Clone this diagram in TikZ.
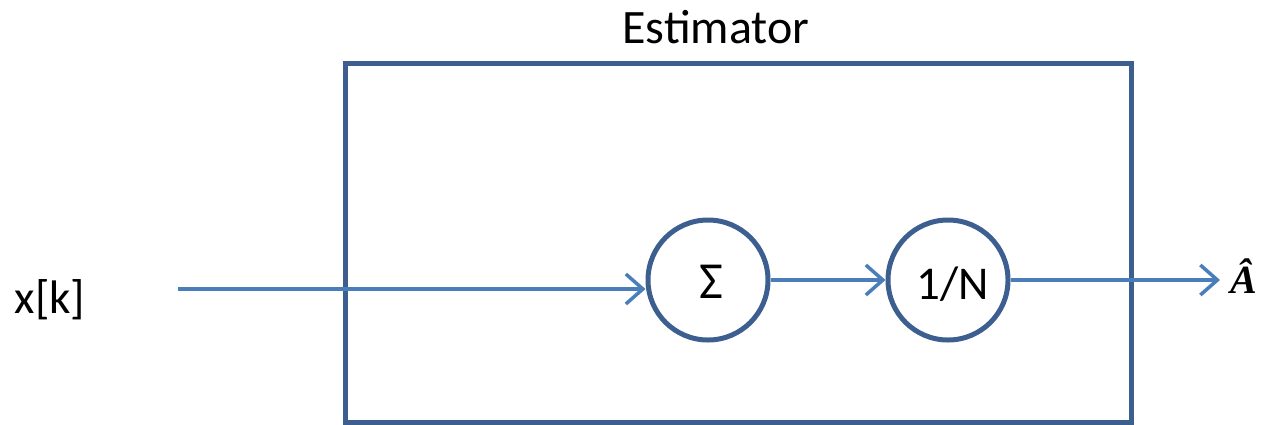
\documentclass[tikz,border=0pt]{standalone}
\usepackage{fontspec}
\setmainfont{Carlito}
\newfontfamily\hatfont{Liberation Serif}
\usetikzlibrary{arrows.meta}
\definecolor{boxblue}{HTML}{3C5F8F}
\definecolor{arrblue}{HTML}{4A7EBB}
\begin{document}
\begin{tikzpicture}[x=1pt,y=-1pt,
  frame/.style={draw=boxblue,line width=5pt},
  blockcirc/.style={circle,draw=boxblue,line width=5pt,minimum size=120pt,inner sep=0pt},
  sig/.style={draw=arrblue,line width=3.5pt,-{Straight Barb[length=17pt,width=30pt,line width=3.5pt]}},
  lbl/.style={inner sep=0pt,anchor=base,font=\fontsize{48}{54}\selectfont}]
\useasboundingbox (0,0) rectangle (1263,424);
\draw[frame] (345,422) -- (345,63) -- (1131,63) -- (1131,422) -- cycle;
\node[lbl] (title) at (716,43) {Estimator};
\node[lbl,font=\fontsize{47}{54}\selectfont] (xk) at (50,313) {x[k]};
\node[blockcirc] (sum) at (708,280) {};
\node[lbl,font=\fontsize{52}{58}\selectfont] (sumtxt) at (711,298) {Σ};
\node[blockcirc] (inv) at (948,280) {};
\node[lbl,font=\fontsize{47}{52}\selectfont] (invtxt) at (953,299) {1/N};
\node[inner sep=0pt,anchor=base,font=\hatfont\bfseries\itshape\fontsize{40}{46}\selectfont] (ahat) at (1244,293) {Â};
\coordinate (in) at (178,289);
\draw[sig] (in) -- (sum.west |- in);
\draw[sig] (sum.east) -- (inv.west);
\draw[sig] (inv.east) -- (1220,280);
\end{tikzpicture}
\end{document}
